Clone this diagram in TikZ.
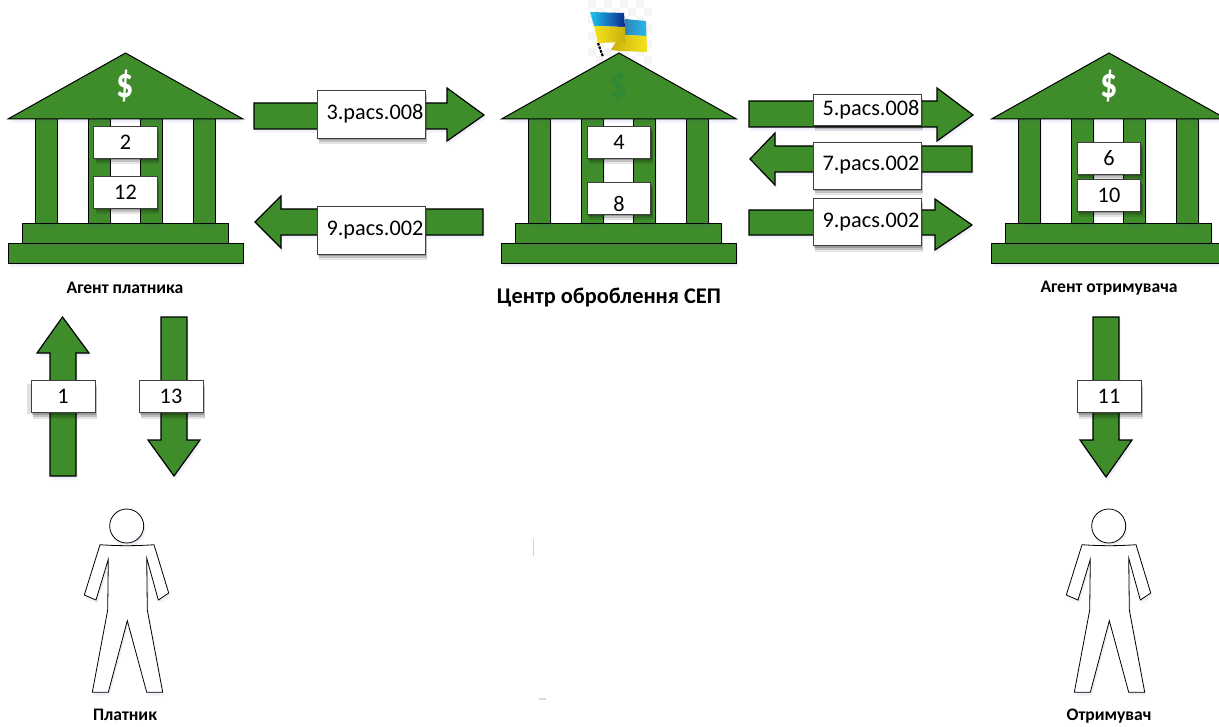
\documentclass[tikz,border=0pt]{standalone}
\usepackage{fontspec}
\setmainfont{Carlito}
\usetikzlibrary{shadows,calc}
\definecolor{gr}{HTML}{3F8C2B}
\definecolor{dgr}{HTML}{2F8A35}
\definecolor{flaga}{HTML}{22C4EE}
\definecolor{flagb}{HTML}{1488D8}
\definecolor{flagc}{HTML}{0A2A90}
\definecolor{flagd}{HTML}{2C86B8}
\definecolor{flage}{HTML}{2AB8EC}
\definecolor{flagy}{HTML}{F4E418}
\definecolor{flagz}{HTML}{C8B010}
\tikzset{
  x=0.75pt,y=-0.75pt,
  softblue/.style={general shadow={fill=blue!40!gray,opacity=.05,shadow xshift=1pt,shadow yshift=-1.5pt},
                   general shadow={fill=blue!40!gray,opacity=.05,shadow xshift=1pt,shadow yshift=-3pt}},
  part/.style={fill=gr,draw=black,line width=.75pt,line join=miter,softblue},
  arrowshape/.style={fill=gr,draw=black,line width=.9pt,line join=miter,softblue},
  lab/.style={draw=black!75,fill=white,line width=.7pt,inner sep=0pt,outer sep=0pt,font=\fontsize{16.7}{16.7}\selectfont,anchor=center,
    general shadow={fill=black,opacity=.10,shadow xshift=1.5pt,shadow yshift=-4.5pt},
    general shadow={fill=black,opacity=.15,shadow xshift=1.5pt,shadow yshift=-3pt},
    general shadow={fill=black,opacity=.2,shadow xshift=.75pt,shadow yshift=-1.5pt}},
  captxt/.style={font=\bfseries\fontsize{13.2}{13.2}\selectfont,inner sep=0pt},
  person/.style={fill=white,draw=black,line width=.6pt,softblue},
}
\newcommand{\boxlab}[6]{\node[lab,minimum width=#4*.75pt,minimum height=#5*.75pt] (#1) at (#2,#3) {#6};}
\newcommand{\mybank}[2]{%
 \begin{scope}[xshift=#1*.75pt]
  \path[part] (8,243) rectangle (243,263);
  \path[part] (22,224) rectangle (228,243);
  \path[part] (35,119) rectangle (57,224);
  \path[part] (88,119) rectangle (110,224);
  \path[part] (140,119) rectangle (162,224);
  \path[part] (193,119) rectangle (215,224);
  \path[part] (8,119) -- (125.5,53) -- (243,119) -- cycle;
  \node[text=#2,font=\bfseries\fontsize{32}{32}\selectfont,inner sep=0pt] at (125.5,86) {\scalebox{.8}[1]{\$}};
 \end{scope}}
\newcommand{\myperson}[1]{%
 \begin{scope}[xshift=#1*.75pt]
  \path[person] (100,544.7) .. controls (118,546) and (136,546) .. (154,544.7) -- (168.7,593) -- (158.3,600) -- (146.7,558) -- (147.3,610) -- (162.7,692.3) -- (146.7,692.3) -- (127.3,620.7) -- (108.3,692.3) -- (92.3,692.3) -- (107.7,610) -- (108.3,559.3) -- (96,600) -- (84.3,595) -- cycle;
  \path[person] (126.7,526) circle[radius=17];
 \end{scope}}
\begin{document}
\begin{tikzpicture}
\useasboundingbox (0,0) rectangle (1219,727);
\fill[white] (0,0) rectangle (1219,727);
% flag backdrop
\foreach \i in {0,...,7}{\foreach \j in {0,...,7}{
  \pgfmathparse{int(mod(\i+\j,2))}
  \ifnum\pgfmathresult=0 \fill[black!4] ({588+\i*8},{\j*8}) rectangle ++(8,8);\fi}}
\mybank{0}{white}
\mybank{493.5}{dgr}
\mybank{983.5}{white}
% flag
\draw[black,line width=1.6pt,dash pattern=on 2pt off .8pt] (598,43) -- (603,57);
\shade[left color=flagd,right color=flage] (625,19) -- (646,21) -- (646.5,36) -- (625,35) -- cycle;
\shade[left color=flagz,right color=flagy] (625,35) -- (646.5,36) -- (647,52) -- (620,51) -- (611,50) -- (620,35) -- cycle;
\shade[left color=flaga,middle color=flagb,right color=flagc] (590,12) -- (624,13) -- (625,27) -- (594,26) -- cycle;
\shade[left color=flagy,middle color=flagy,right color=flagz] (594,26) -- (625,27) -- (625,42) -- (598,43) -- cycle;
% top arrows
\path[arrowshape] (254,103) -- (447,103) -- (447,88) -- (484,115) -- (447,141) -- (447,129) -- (254,129) -- cycle;
\boxlab{l3}{371}{114}{108}{48}{\hspace*{6pt}3.pacs.008}
\path[arrowshape] (255,222) -- (281,196) -- (281,209) -- (483,209) -- (483,235) -- (281,235) -- (281,248) -- cycle;
\boxlab{l9a}{371}{230}{108}{48}{\hspace*{6pt}9.pacs.002}
\path[arrowshape] (749,101) -- (937,101) -- (937,88) -- (973,115) -- (937,141) -- (937,127) -- (749,127) -- cycle;
\boxlab{l5}{867}{110}{108}{31}{\hspace*{6pt}5.pacs.008}
\path[arrowshape] (750,159) -- (775,133) -- (775,146) -- (972,146) -- (972,172) -- (775,172) -- (775,185) -- cycle;
\boxlab{l7}{867}{165.5}{108}{47}{\hspace*{6pt}7.pacs.002}
\path[arrowshape] (749,210) -- (935,210) -- (935,199) -- (972,225) -- (935,250) -- (935,235) -- (749,235) -- cycle;
\boxlab{l9b}{867}{222}{108}{47}{\hspace*{6pt}9.pacs.002}
% vertical arrows
\path[arrowshape] (62.5,317) -- (89,353) -- (76,353) -- (76,476) -- (50,476) -- (50,353) -- (37,353) -- cycle;
\fill[black,opacity=.12] (27,384) rectangle (31,414);
\boxlab{l1}{63}{396.5}{64}{32}{1}
\path[arrowshape] (161,317) -- (187,317) -- (187,440) -- (200,440) -- (174,476) -- (148,440) -- (161,440) -- cycle;
\boxlab{l13}{171}{396.5}{64}{32}{13}
\path[arrowshape] (1093,317) -- (1119,317) -- (1119,440) -- (1132,440) -- (1106,477) -- (1080,440) -- (1093,440) -- cycle;
\boxlab{l11}{1109}{396.5}{64}{32}{11}
% labels on banks
\boxlab{b2}{125.5}{142.5}{63.5}{32}{2}
\boxlab{b12}{125.5}{192.5}{63.5}{32}{12}
\boxlab{b4}{619}{142.5}{63.5}{32}{4}
\boxlab{b8}{619}{198}{63.5}{32}{\raisebox{-10pt}[0pt][0pt]{8}}
\boxlab{b6}{1109}{158}{63.5}{32}{6}
\boxlab{b10}{1109}{195}{63.5}{32}{10}
% people
\myperson{0}
\myperson{982}
% captions
\node[captxt] (c1) at (125,288) {Агент платника};
\node[captxt,font=\bfseries\fontsize{16.8}{16.8}\selectfont] (c2) at (609,298) {Центр оброблення СЕП};
\node[captxt] (c3) at (1109,288) {Агент отримувача};
\node[captxt] (c4) at (125,715) {Платник};
\node[captxt] (c5) at (1109,716) {Отримувач};
% stray marks
\fill[black!18] (532.5,539) rectangle (533.5,556);
\fill[black!15] (539,698) rectangle (546,699.5);
\end{tikzpicture}
\end{document}
